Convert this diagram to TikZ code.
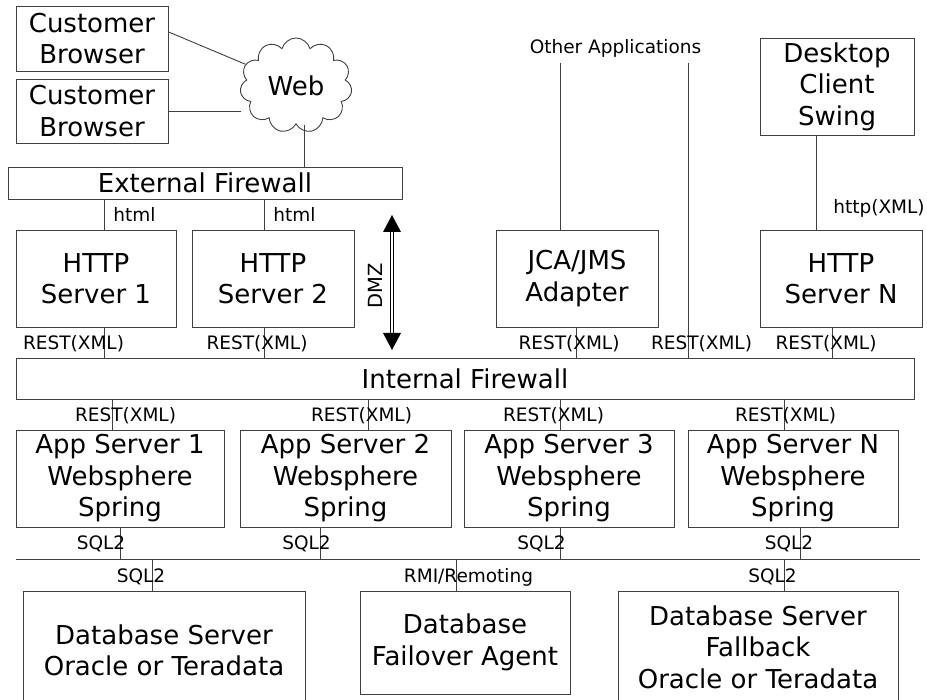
\documentclass[tikz,border=0pt]{standalone}
\usepackage{fontspec}
\setmainfont{DejaVu Sans}
\usetikzlibrary{shapes.symbols,calc}
\begin{document}
\begin{tikzpicture}[x=1pt,y=-1pt,
  box/.style={draw=black!75, line width=0.9pt, inner sep=0pt, align=center,
    font=\fontsize{26}{31.5}\selectfont},
  lbl/.style={inner sep=0pt, anchor=base, font=\fontsize{18.5}{22}\selectfont},
  conn/.style={draw=black!75, line width=0.9pt}]
\useasboundingbox (0,0) rectangle (927,700);

% top clients
\node[box, minimum width=152, minimum height=65] (cb1) at (92,38.5) {Customer\\Browser};
\node[box, minimum width=152, minimum height=64] (cb2) at (92,111) {Customer\\Browser};
\node[cloud, draw=black!75, line width=0.9pt, cloud puffs=11, cloud ignores aspect,
  minimum width=112, minimum height=95, inner sep=0pt,
  font=\fontsize{26}{31.5}\selectfont] (web) at (296,85.5) {Web};
\node[box, minimum width=154, minimum height=97] (desk) at (837,86.5) {Desktop\\Client\\Swing};

% firewalls
\node[box, minimum width=394, minimum height=32] (extfw) at (205,183) {External Firewall};
\node[box, minimum width=898, minimum height=41] (intfw) at (465,378.5) {Internal Firewall};

% DMZ servers
\node[box, minimum width=160, minimum height=97] (h1) at (96,278.5) {HTTP\\Server 1};
\node[box, minimum width=162, minimum height=97] (h2) at (273,278.5) {HTTP\\Server 2};
\node[box, minimum width=162, minimum height=97] (jca) at (577,278.5) {JCA/JMS\\Adapter};
\node[box, minimum width=162, minimum height=97] (hn) at (841,278.5) {HTTP\\Server N};

% app servers
\node[box, minimum width=208, minimum height=97] (app1) at (120,478.5) {App Server 1\\Websphere\\Spring};
\node[box, minimum width=211, minimum height=97] (app2) at (345.5,478.5) {App Server 2\\Websphere\\Spring};
\node[box, minimum width=210, minimum height=97] (app3) at (569,478.5) {App Server 3\\Websphere\\Spring};
\node[box, minimum width=210, minimum height=97] (appn) at (793,478.5) {App Server N\\Websphere\\Spring};

% databases
\node[box, minimum width=282, minimum height=119] (db1) at (164,650.5) {Database Server\\Oracle or Teradata};
\node[box, minimum width=210, minimum height=103] (fo) at (465,642.5) {Database\\Failover Agent};
\node[box, minimum width=280, minimum height=112] (db2) at (758,647) {Database Server\\Fallback\\Oracle or Teradata};

% helper coordinates
\coordinate (oa) at (0,63);
\coordinate (busL) at (16,559);
\coordinate (busR) at (920,559);
\foreach \n/\v in {x104/104,x264/264,x304/304,x560/560,x576/576,x688/688,x816/816,x832/832,
  x112/112,x368/368,x784/784,x120/120,x320/320,x800/800,x152/152,x456/456}
  \coordinate (\n) at (\v,0);

% connectors top
\draw[conn] ($(cb1.north east)!0.4!(cb1.south east)$) -- (web);
\draw[conn] (cb2.east) -- (web.west |- cb2.east);
\draw[conn] (x304 |- web.south) -- (x304 |- extfw.north);
\draw[conn] (x104 |- extfw.south) -- (x104 |- h1.north);
\draw[conn] (x264 |- extfw.south) -- (x264 |- h2.north);
\draw[conn] (x560 |- oa) -- (x560 |- jca.north);
\draw[conn] (x688 |- oa) -- (x688 |- intfw.north);
\draw[conn] (x816 |- desk.south) -- (x816 |- hn.north);

% to internal firewall
\draw[conn] (x104 |- h1.south) -- (x104 |- intfw.north);
\draw[conn] (x264 |- h2.south) -- (x264 |- intfw.north);
\draw[conn] (x576 |- jca.south) -- (x576 |- intfw.north);
\draw[conn] (x832 |- hn.south) -- (x832 |- intfw.north);

% to app servers
\draw[conn] (x112 |- intfw.south) -- (x112 |- app1.north);
\draw[conn] (x368 |- intfw.south) -- (x368 |- app2.north);
\draw[conn] (x560 |- intfw.south) -- (x560 |- app3.north);
\draw[conn] (x784 |- intfw.south) -- (x784 |- appn.north);

% bus
\draw[conn] (busL) -- (busR);
\draw[conn] (x120 |- app1.south) -- (x120 |- busL);
\draw[conn] (x320 |- app2.south) -- (x320 |- busL);
\draw[conn] (x560 |- app3.south) -- (x560 |- busL);
\draw[conn] (x800 |- appn.south) -- (x800 |- busL);
\draw[conn] (x152 |- busL) -- (x152 |- db1.north);
\draw[conn] (x456 |- busL) -- (x456 |- fo.north);
\draw[conn] (x784 |- busL) -- (x784 |- db2.north);

% DMZ arrow
\coordinate (dT) at (392,215);
\coordinate (dB) at (392,350);
\draw[double=white, double distance=1.8pt, line width=1.1pt] ($(dT)+(0,16)$) -- ($(dB)+(0,-16)$);
\fill[black] (dT) -- ++(-9,17) -- ++(18,0) -- cycle;
\fill[black] (dB) -- ++(-9,-17) -- ++(18,0) -- cycle;
\node[inner sep=0pt, rotate=90, font=\fontsize{19.5}{22}\selectfont] (dmz) at (375,286) {DMZ};

% labels
\node[lbl] (lh1) at (134.5,222) {html};
\node[lbl] (lh2) at (294.5,222) {html};
\node[lbl] (loa) at (615.5,54) {Other Applications};
\node[lbl] (lhx) at (879,214) {http(XML)};
\node[lbl] (r1) at (73.5,350) {REST(XML)};
\node[lbl] (r2) at (257,350) {REST(XML)};
\node[lbl] (r3) at (569,350) {REST(XML)};
\node[lbl] (r4) at (701.5,350) {REST(XML)};
\node[lbl] (r5) at (826,350) {REST(XML)};
\node[lbl] (r6) at (125.5,422) {REST(XML)};
\node[lbl] (r7) at (361.5,422) {REST(XML)};
\node[lbl] (r8) at (553.5,422) {REST(XML)};
\node[lbl] (r9) at (785.5,422) {REST(XML)};
\node[lbl] (s1) at (101,550) {SQL2};
\node[lbl] (s2) at (306.5,550) {SQL2};
\node[lbl] (s3) at (541.5,550) {SQL2};
\node[lbl] (s4) at (789,550) {SQL2};
\node[lbl] (s5) at (141,582) {SQL2};
\node[lbl] (rmi) at (468.5,582) {RMI/Remoting};
\node[lbl] (s6) at (772.5,582) {SQL2};
\end{tikzpicture}
\end{document}
